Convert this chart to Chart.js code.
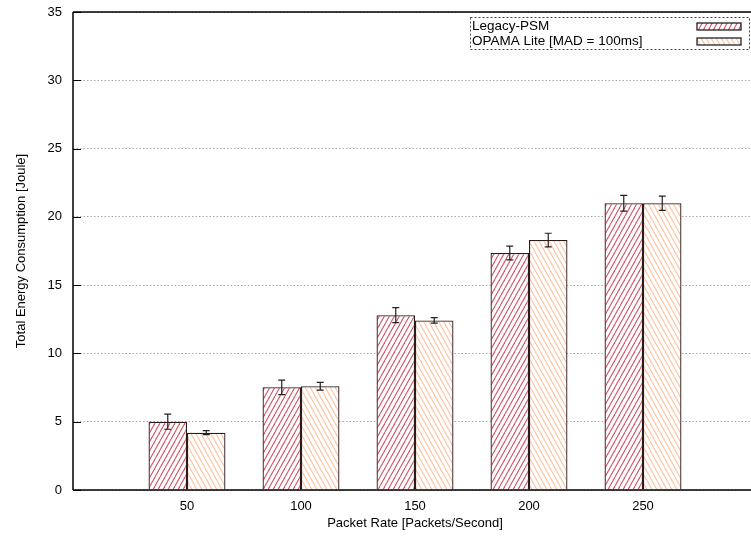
<!DOCTYPE html>
<html>
<head>
<meta charset="utf-8">
<script src="https://cdn.jsdelivr.net/npm/chart.js@4.4.1/dist/chart.umd.min.js"></script>
<style>
  html, body { margin: 0; padding: 0; overflow: hidden; background: #fff; }
  #wrap { width: 760px; height: 539px; }
</style>
</head>
<body>
<div id="wrap"><canvas id="myChart" width="760" height="539"></canvas></div>
<script>
'use strict'
let categories = ['50', '100', '150', '200', '250'];
let legacyVals = [5.0, 7.52, 12.8, 17.35, 21.0];
let legacyErr = [0.55, 0.53, 0.55, 0.5, 0.58];
let opamaVals = [4.2, 7.6, 12.42, 18.3, 21.0];
let opamaErr = [0.15, 0.28, 0.2, 0.5, 0.52];
let yTicks = [0, 5, 10, 15, 20, 25, 30, 35];

const FONT = 'Liberation Sans, Helvetica, Arial, sans-serif';

// hatch fill: white base with thin diagonal strokes
function hatch(color, forward){
    let c = document.createElement('canvas');
    c.width = 5; c.height = 9;
    let g = c.getContext('2d');
    g.fillStyle = '#fff';
    g.fillRect(0, 0, 5, 9);
    g.strokeStyle = color;
    g.lineWidth = 1.1;
    for (let dx = -5; dx <= 5; dx += 5){
        g.beginPath();
        if (forward){
            g.moveTo(dx, 9); g.lineTo(dx + 5, 0);
        } else {
            g.moveTo(dx, 0); g.lineTo(dx + 5, 9);
        }
        g.stroke();
    }
    return g.createPattern(c, 'repeat');
}

let ctx = document.getElementById('myChart').getContext('2d');
let legacyFill = hatch('rgba(195,45,65,0.8)', true);
let opamaFill = hatch('rgba(252,185,145,0.85)', false);

let errorBars = {
    id: 'errorBars',
    afterDatasetsDraw(chart){
        let c = chart.ctx;
        let ys = chart.scales.y;
        let errs = [legacyErr, opamaErr];
        c.save();
        c.strokeStyle = '#222';
        c.lineWidth = 1.2;
        chart.data.datasets.forEach((ds, d) => {
            chart.getDatasetMeta(d).data.forEach((bar, i) => {
                let v = ds.data[i].y;
                let top = ys.getPixelForValue(v + errs[d][i]);
                let bot = ys.getPixelForValue(v - errs[d][i]);
                c.beginPath();
                c.moveTo(bar.x, top); c.lineTo(bar.x, bot);
                c.moveTo(bar.x - 3.5, top); c.lineTo(bar.x + 3.5, top);
                c.moveTo(bar.x - 3.5, bot); c.lineTo(bar.x + 3.5, bot);
                c.stroke();
            });
        });
        c.restore();
    }
};

// frame, inward tics and the key box
let frame = {
    id: 'frame',
    afterDraw(chart){
        let c = chart.ctx;
        let a = chart.chartArea;
        let ys = chart.scales.y;
        c.save();
        c.strokeStyle = '#000';
        c.lineWidth = 1.5;
        c.beginPath();
        c.moveTo(a.left, a.top); c.lineTo(a.right, a.top);
        c.moveTo(a.left, a.top); c.lineTo(a.left, a.bottom);
        c.moveTo(a.left, a.bottom); c.lineTo(a.right, a.bottom);
        c.stroke();
        c.lineWidth = 1;
        yTicks.forEach(t => {
            let y = Math.round(ys.getPixelForValue(t)) + 0.5;
            c.beginPath();
            c.moveTo(a.left, y); c.lineTo(a.left + 8, y);
            c.stroke();
        });

        // key
        c.setLineDash([2, 2]);
        c.strokeStyle = '#444';
        c.strokeRect(470.5, 17.5, 279, 32);
        c.setLineDash([]);
        c.font = '13.5px ' + FONT;
        c.fillStyle = '#000';
        c.textBaseline = 'middle';
        c.textAlign = 'left';
        let keys = [[chart.data.datasets[0], 26.5], [chart.data.datasets[1], 41.5]];
        keys.forEach(k => {
            c.fillText(k[0].label, 472, k[1]);
            c.fillStyle = k[0].backgroundColor;
            c.fillRect(697, k[1] - 3.5, 44, 7);
            c.strokeStyle = '#222';
            c.lineWidth = 1.3;
            c.strokeRect(697, k[1] - 3.5, 44, 7);
            c.fillStyle = '#000';
        });
        c.restore();
    }
};

let myChart = new Chart(ctx, {
    type: 'bar',
    data: {
        datasets: [{
            label: 'Legacy-PSM',
            data: legacyVals.map((v, i) => ({x: i, y: v})),
            backgroundColor: legacyFill,
            borderColor: '#2a1a1a',
            borderWidth: 1.3
        }, {
            label: 'OPAMA Lite [MAD = 100ms]',
            data: opamaVals.map((v, i) => ({x: i, y: v})),
            backgroundColor: opamaFill,
            borderColor: '#2a1a1a',
            borderWidth: 1.3
        }]
    },
    options: {
        responsive: false,
        animation: false,
        categoryPercentage: 0.675,
        barPercentage: 1,
        layout: { padding: { top: 12, right: 3, left: 0, bottom: 0 } },
        plugins: {
            legend: { display: false },
            tooltip: { enabled: false }
        },
        scales: {
            x: {
                type: 'linear',
                min: -1,
                max: 5,
                offset: false,
                afterFit(s){
                    s.height = 49;
                    s.paddingLeft = 0; s.paddingRight = 0;
                },
                afterBuildTicks(s){ s.ticks = [0, 1, 2, 3, 4].map(v => ({value: v})); },
                ticks: {
                    callback: v => categories[v] || '',
                    font: { family: FONT, size: 13 },
                    color: '#000',
                    padding: 9,
                    maxRotation: 0
                },
                grid: { display: false, drawTicks: false, offset: false },
                border: { display: false },
                title: {
                    display: true,
                    text: 'Packet Rate [Packets/Second]',
                    font: { family: FONT, size: 13 },
                    color: '#000',
                    padding: { top: 0, bottom: 8 }
                }
            },
            y: {
                min: 0,
                max: 35,
                afterFit(s){
                    s.width = 73;
                    s.paddingTop = 0; s.paddingBottom = 0;
                },
                afterBuildTicks(s){ s.ticks = yTicks.map(v => ({value: v})); },
                ticks: {
                    font: { family: FONT, size: 13 },
                    color: '#000',
                    padding: 11
                },
                grid: { color: '#aaa', lineWidth: 1, drawTicks: false },
                border: { display: false, dash: [1.5, 2] },
                title: {
                    display: true,
                    text: 'Total Energy Consumption [Joule]',
                    font: { family: FONT, size: 13 },
                    color: '#000',
                    padding: { top: 14, bottom: 0 }
                }
            }
        }
    },
    plugins: [errorBars, frame]
});
</script>
</body>
</html>
